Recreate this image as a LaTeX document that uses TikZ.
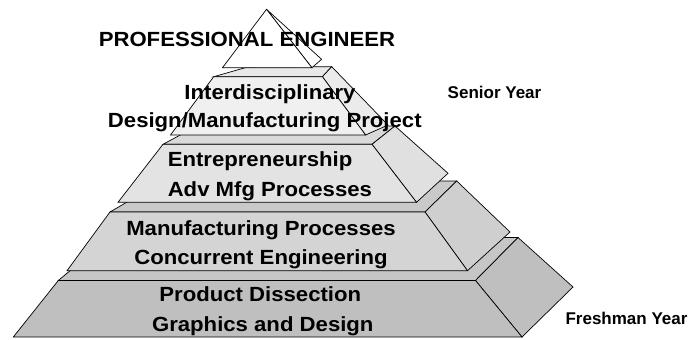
\documentclass[tikz,border=0pt]{standalone}
\usepackage{fontspec}
\newfontfamily\pyrfont{Liberation Sans}[FakeStretch=1.08]
\newfontfamily\sidefont{Liberation Sans}
\begin{document}
\begin{tikzpicture}[x=1bp,y=-1bp,line width=0.7bp,line join=miter]
\tikzset{
  face/.style={draw=black,fill=#1},
  lbl/.style={font=\pyrfont\bfseries\fontsize{20.5bp}{24bp}\selectfont,anchor=base,inner sep=0pt},
  lblw/.style={lbl,anchor=base west},
  sidelbl/.style={font=\sidefont\bfseries\fontsize{17bp}{20bp}\selectfont,anchor=base,inner sep=0pt}
}
\useasboundingbox (0,0) rectangle (691,339);
% ---- tier 4 (bottom)
\coordinate (TL4) at (58.3,280.5); \coordinate (TR4) at (475.5,280.5);
\coordinate (BR4) at (522,337);    \coordinate (BL4) at (13.3,337);
\coordinate (TRb4) at (518,237.5); \coordinate (TLb4) at (110,237.5);
\coordinate (BRb4) at (573,287);
\draw[face=gray!45!white] (TL4) -- (TR4) -- (TRb4) -- (TLb4) -- cycle;
\draw[face=gray!50!white] (TR4) -- (TRb4) -- (BRb4) -- (BR4) -- cycle;
\draw[face=gray!50!white] (TL4) -- (TR4) -- (BR4) -- (BL4) -- cycle;
% ---- tier 3
\coordinate (TL3) at (110,212); \coordinate (TR3) at (425,212);
\coordinate (BR3) at (467.5,270.7); \coordinate (BL3) at (67,270.7);
\coordinate (TRb3) at (456.7,181); \coordinate (TLb3) at (163,181);
\coordinate (BRb3) at (510,232);
\draw[face=gray!42!white] (TL3) -- (TR3) -- (TRb3) -- (TLb3) -- cycle;
\draw[face=gray!38!white] (TR3) -- (TRb3) -- (BRb3) -- (BR3) -- cycle;
\draw[face=gray!34!white] (TL3) -- (TR3) -- (BR3) -- (BL3) -- cycle;
% ---- tier 2
\coordinate (TL2) at (163,144.3); \coordinate (TR2) at (372,144.3);
\coordinate (BR2) at (416.5,202.3); \coordinate (BL2) at (118,202.3);
\coordinate (TRb2) at (395,126); \coordinate (TLb2) at (197,126);
\coordinate (BRb2) at (448,173.3);
\draw[face=gray!30!white] (TL2) -- (TR2) -- (TRb2) -- (TLb2) -- cycle;
\draw[face=gray!24!white] (TR2) -- (TRb2) -- (BRb2) -- (BR2) -- cycle;
\draw[face=gray!22!white] (TL2) -- (TR2) -- (BR2) -- (BL2) -- cycle;
% ---- tier 1
\coordinate (TL1) at (213.7,76.7); \coordinate (TR1) at (322.4,76.7);
\coordinate (BR1) at (365.6,135); \coordinate (BL1) at (170.5,135);
\coordinate (TRb1) at (331.7,66.7); \coordinate (TLb1) at (247,67.2);
\coordinate (BRb1) at (388,125);
\draw[face=gray!18!white] (TL1) -- (TR1) -- (TRb1) -- (TLb1) -- cycle;
\draw[face=gray!16!white] (TR1) -- (TRb1) -- (BRb1) -- (BR1) -- cycle;
\draw[face=gray!12!white] (TL1) -- (TR1) -- (BR1) -- (BL1) -- cycle;
% ---- top triangle
\coordinate (AP) at (266.5,9.3); \coordinate (TBL) at (222.5,67.7);
\coordinate (TBR) at (311.9,67.7); \coordinate (TSD) at (321.6,59.3);
\draw[face=white] (AP) -- (TSD) -- (TBR) -- cycle;
\draw[face=white] (AP) -- (TBR) -- (TBL) -- cycle;
% ---- texts
\node[lbl] (pe) at (247,46) {PROFESSIONAL ENGINEER};
\node[lbl] (t1a) at (270,99.3) {Interdisciplinary};
\node[lbl] (t1b) at (264.8,127.3) {Design/Manufacturing Project};
\node[lblw] (t2a) at (167.4,166.7) {Entrepreneurship};
\node[lblw] (t2b) at (167.4,196) {Adv Mfg Processes};
\node[lbl] (t3a) at (261,235) {Manufacturing Processes};
\node[lbl] (t3b) at (261,264.3) {Concurrent Engineering};
\node[lbl] (t4a) at (260.3,301.7) {Product Dissection};
\node[lbl] (t4b) at (262.8,331.7) {Graphics and Design};
\node[sidelbl] (sy) at (494.5,98) {Senior Year};
\node[sidelbl] (fy) at (626.5,324) {Freshman Year};
\end{tikzpicture}
\end{document}
